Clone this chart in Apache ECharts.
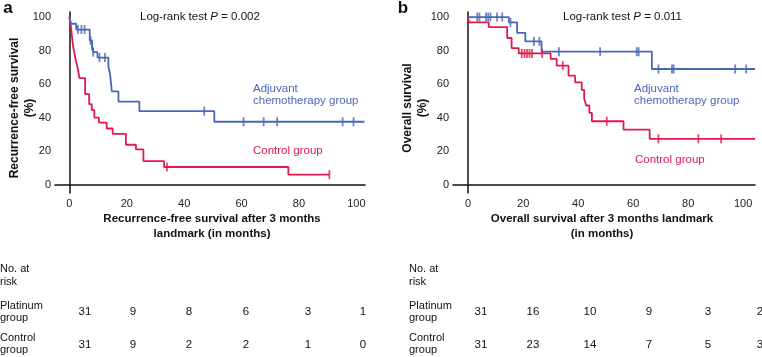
<!DOCTYPE html>
<html>
<head>
<meta charset="utf-8">
<script src="https://cdn.jsdelivr.net/npm/echarts@6/dist/echarts.min.js"></script>
<style>
html,body{margin:0;padding:0;background:#fff;}
#chart{width:762px;height:357px;}
</style>
</head>
<body>
<div id="chart"></div>
<script>
// ---------- DATA ----------
const xTicks = [0, 20, 40, 60, 80, 100];
const yTicks = [0, 20, 40, 60, 80, 100];

// Panel a: recurrence-free survival (time in months, survival in %)
const rfsAdjTime = [0, 0.6, 2.4, 7.1, 7.9, 8.5, 9.8, 13.6, 14.2, 14.8, 17.1, 24.4, 50.5, 102.8];
const rfsAdjSurv = [100, 96, 92.5, 86, 82.5, 79, 75.8, 70.5, 65.6, 55.6, 49.5, 43.8, 37.5, 37.5];
const rfsAdjCensT = [3.0, 4.2, 5.3, 7.4, 7.9, 8.3, 10.5, 12.4, 47, 60.7, 67.7, 72.4, 95.2, 99];
const rfsAdjCensS = [92.5, 92.5, 92.5, 86, 82.5, 79, 75.8, 75.8, 43.8, 37.5, 37.5, 37.5, 37.5, 37.5];

const rfsCtrlTime = [0, 0.3, 0.6, 0.8, 1.0, 1.2, 1.5, 1.9, 2.2, 2.7, 3.1, 3.5, 5.5, 6.9, 7.8, 8.7, 10.3, 13, 15.1, 19.7, 23.2, 25.8, 33, 76.3, 90.6];
const rfsCtrlSurv = [100, 96.8, 93.5, 90.3, 87.1, 83.9, 80.6, 77.4, 74.2, 71, 67.7, 63.6, 54, 48, 44.5, 40, 37, 33.5, 30.3, 23.8, 21, 14, 10.5, 6, 6];
const rfsCtrlCensT = [34, 90.6];
const rfsCtrlCensS = [10.5, 6];

// Panel b: overall survival
const osAdjTime = [0, 14.8, 17.8, 20.8, 26.7, 66.8, 104.3];
const osAdjSurv = [100, 96.8, 90.6, 85.5, 79.3, 69, 69];
const osAdjCensT = [3.3, 4.1, 6.5, 7.3, 8.1, 10.5, 12.4, 15.4, 23.9, 25.9, 33, 48, 61.3, 62, 69.2, 74.1, 74.7, 97.1, 101.1];
const osAdjCensS = [100, 100, 100, 100, 100, 100, 100, 96.8, 85.5, 85.5, 79.3, 79.3, 79.3, 79.3, 69, 69, 69, 69, 69];

const osCtrlTime = [0, 0.3, 7.5, 14.2, 15.8, 18.4, 30, 32.2, 36.5, 38.9, 41.3, 42.2, 42.9, 44.1, 45, 56.5, 66, 104.3];
const osCtrlSurv = [100, 96.8, 94, 87.5, 81.5, 78.3, 75, 71, 65, 61, 56.5, 51.5, 47.2, 42.8, 37.8, 32.8, 27.3, 27.3];
const osCtrlCensT = [19.5, 20.5, 21.4, 22.3, 23.2, 26.9, 34.4, 50.4, 69.2, 83.7, 92];
const osCtrlCensS = [78.3, 78.3, 78.3, 78.3, 78.3, 78.3, 71, 37.8, 27.3, 27.3, 27.3];

// Numbers at risk
const rfsRiskPlatinum = [31, 9, 8, 6, 3, 1];
const rfsRiskControl = [31, 9, 2, 2, 1, 0];
const osRiskPlatinum = [31, 16, 10, 9, 3, 2];
const osRiskControl = [31, 23, 14, 7, 5, 3];

// ---------- STYLE / LAYOUT ----------
const BLUE = '#4a67b7';
const RED = '#e3184c';
const FONT = '"Liberation Sans", Arial, Helvetica, sans-serif';
const zip = (a, b) => a.map((v, i) => [v, b[i]]);

const chart = echarts.init(document.getElementById('chart'), null, {renderer: 'canvas'});

function xAxisDef(gi, min, max) {
  return {
    type: 'value', gridIndex: gi, min: min, max: max,
    axisLine: {show: true, lineStyle: {color: '#111', width: 1.5}},
    axisTick: {show: false}, splitLine: {show: false},
    axisLabel: {customValues: xTicks, fontSize: 11, color: '#222', fontFamily: FONT, margin: 5}
  };
}
function yAxisDef(gi) {
  return {
    type: 'value', gridIndex: gi, min: -5, max: 103,
    axisLine: {show: true, lineStyle: {color: '#111', width: 1.5}},
    axisTick: {show: false}, splitLine: {show: false},
    axisLabel: {customValues: yTicks, fontSize: 11, color: '#222', fontFamily: FONT, margin: 4}
  };
}
function stepSeries(gi, t, s, color) {
  return {
    type: 'line', xAxisIndex: gi, yAxisIndex: gi, step: 'end',
    data: zip(t, s), showSymbol: false, symbol: 'none',
    lineStyle: {color: color, width: 1.8}, z: 3, silent: true
  };
}
function censSeries(gi, t, s, color) {
  return {
    type: 'scatter', xAxisIndex: gi, yAxisIndex: gi,
    data: zip(t, s), symbol: 'rect', symbolSize: [1.8, 9],
    itemStyle: {color: color}, z: 4, silent: true
  };
}

const graphics = [];
function txt(x, y, text, opts) {
  const o = opts || {};
  graphics.push({
    type: 'text', x: x, y: y, rotation: o.rotation || 0, silent: true,
    style: Object.assign({
      text: text, fill: o.fill || '#111',
      font: (o.weight || 'normal') + ' ' + (o.size || 11.5) + 'px ' + FONT,
      textAlign: o.align || 'left', textVerticalAlign: 'middle',
      lineHeight: o.lineHeight || 13
    }, o.rich ? {rich: o.rich} : {})
  });
}

// panel letters
txt(8, 8, 'a', {weight: 'bold', size: 17, align: 'center'});
txt(403, 8, 'b', {weight: 'bold', size: 17, align: 'center'});

// log-rank
const richP = {i: {fontStyle: 'italic', fontSize: 11.5, fontFamily: FONT, fill: '#111'}};
txt(140, 17, 'Log-rank test {i|P} = 0.002', {rich: richP});
txt(563, 17, 'Log-rank test {i|P} = 0.011', {rich: richP});

// group labels
txt(253, 95, 'Adjuvant\nchemotherapy group', {fill: BLUE, lineHeight: 12});
txt(253, 151, 'Control group', {fill: RED});
txt(634, 95, 'Adjuvant\nchemotherapy group', {fill: BLUE, lineHeight: 12});
txt(635, 160, 'Control group', {fill: RED});

// axis titles
txt(22, 108, 'Recurrence-free survival\n(%)', {weight: 'bold', size: 12, align: 'center', rotation: Math.PI / 2, lineHeight: 15});
txt(415, 108, 'Overall survival\n(%)', {weight: 'bold', size: 12, align: 'center', rotation: Math.PI / 2, lineHeight: 15});
txt(212, 226.5, 'Recurrence-free survival after 3 months\nlandmark (in months)', {weight: 'bold', size: 11.5, align: 'center', lineHeight: 15});
txt(602, 226.5, 'Overall survival after 3 months landmark\n(in months)', {weight: 'bold', size: 11.5, align: 'center', lineHeight: 15});

// risk table
const rfsRiskX = [85, 133, 189, 246, 308, 363];
const osRiskX = [481, 533, 590, 649, 708, 760];
const TS = 11;
txt(0, 275.5, 'No. at\nrisk', {lineHeight: 12.5, size: TS});
txt(409, 275.5, 'No. at\nrisk', {lineHeight: 12.5, size: TS});
txt(0, 312, 'Platinum\ngroup', {lineHeight: 12.5, size: TS});
txt(409, 312, 'Platinum\ngroup', {lineHeight: 12.5, size: TS});
txt(0, 344, 'Control\ngroup', {lineHeight: 12.5, size: TS});
txt(409, 344, 'Control\ngroup', {lineHeight: 12.5, size: TS});
rfsRiskPlatinum.forEach((v, i) => txt(rfsRiskX[i], 312, String(v), {align: 'center'}));
rfsRiskControl.forEach((v, i) => txt(rfsRiskX[i], 345, String(v), {align: 'center'}));
osRiskPlatinum.forEach((v, i) => txt(osRiskX[i], 312, String(v), {align: 'center'}));
osRiskControl.forEach((v, i) => txt(osRiskX[i], 345, String(v), {align: 'center'}));

chart.setOption({
  animation: false,
  backgroundColor: '#fff',
  textStyle: {fontFamily: FONT},
  grid: [
    {left: 55, top: 12, width: 310, height: 181},
    {left: 453, top: 12, width: 302, height: 181}
  ],
  xAxis: [xAxisDef(0, -5, 103), xAxisDef(1, -5.5, 104.3)],
  yAxis: [yAxisDef(0), yAxisDef(1)],
  series: [
    stepSeries(0, rfsCtrlTime, rfsCtrlSurv, RED),
    stepSeries(0, rfsAdjTime, rfsAdjSurv, BLUE),
    censSeries(0, rfsCtrlCensT, rfsCtrlCensS, RED),
    censSeries(0, rfsAdjCensT, rfsAdjCensS, BLUE),
    stepSeries(1, osCtrlTime, osCtrlSurv, RED),
    stepSeries(1, osAdjTime, osAdjSurv, BLUE),
    censSeries(1, osCtrlCensT, osCtrlCensS, RED),
    censSeries(1, osAdjCensT, osAdjCensS, BLUE)
  ],
  graphic: graphics
});
</script>
</body>
</html>
